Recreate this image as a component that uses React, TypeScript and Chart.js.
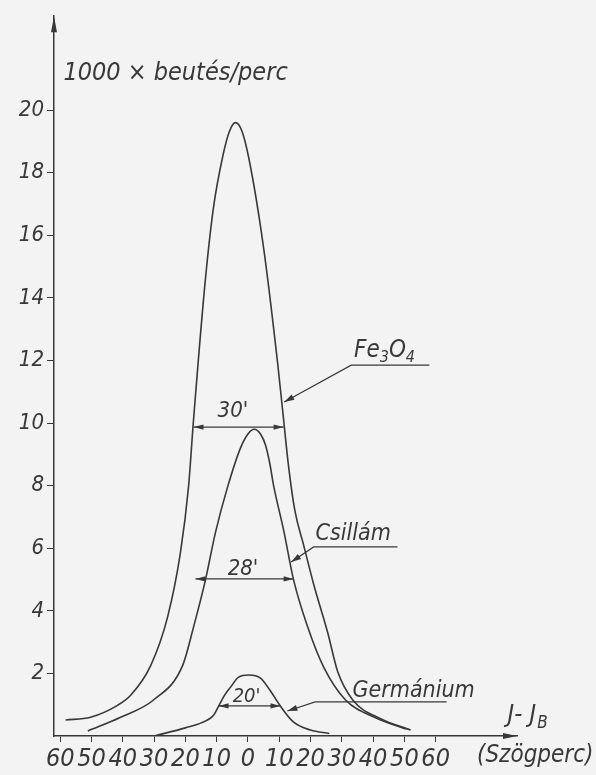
import React, { useEffect, useRef } from "react";
import { Chart, registerables } from "chart.js";

Chart.register(...registerables);

// ---- data (angle offset in arc-minutes, counts in 1000/min) ----
const feX = [-58.3, -50.3, -41.7, -37.5, -31.1, -25.7, -21.6, -19.0, -17.4, -13.6, -11.0, -8.1, -6.0, -4.0, -2.0, 0.2, 5.0, 9.5, 11.4, 13.0, 15.0, 17.8, 21.0, 25.5, 28.7, 33.5, 42.4, 52.0];
const feY = [0.51, 0.6, 0.98, 1.3, 2.25, 3.8, 5.85, 7.96, 10.1, 14.6, 16.9, 18.5, 19.3, 19.6, 19.35, 18.5, 15.6, 11.9, 10.1, 8.6, 7.2, 6.1, 4.85, 3.3, 2.05, 1.15, 0.55, 0.19];

const csX = [-51.2, -40.7, -30.2, -20.9, -17.4, -13.6, -10.4, -6.5, -2.4, 0.0, 2.0, 4.0, 5.6, 7.0, 8.2, 11.4, 14.6, 19.1, 24.2, 31.2, 40.8, 50.4];
const csY = [0.16, 0.6, 1.15, 2.25, 3.48, 4.98, 6.5, 7.96, 9.2, 9.65, 9.8, 9.65, 9.3, 8.7, 8.0, 6.58, 4.98, 3.48, 2.2, 1.15, 0.58, 0.22];

const geX = [-30, -20, -15, -11, -9.4, -7.5, -5.5, -3, 0.2, 4, 7, 10.4, 14.5, 20, 26];
const geY = [0.0, 0.26, 0.42, 0.66, 0.95, 1.3, 1.57, 1.88, 1.95, 1.85, 1.47, 0.95, 0.45, 0.19, 0.08];

const xTicks = [-60, -50, -40, -30, -20, -10, 0, 10, 20, 30, 40, 50, 60];
const yTicks = [2, 4, 6, 8, 10, 12, 14, 16, 18, 20];

const seriesNames = ["Fe3O4", "Csillám", "Germánium"];
const widthLabels = ["30'", "28'", "20'"];
const yTitle = "1000 × beutés/perc";
const xTitle = "(Szögperc)";

const INK = "#383838";
const FAM = '"DejaVu Sans Condensed", "Liberation Sans", sans-serif';

function toPts(xs: number[], ys: number[]) {
  return xs.map((x, i) => ({ x, y: ys[i] }));
}

function arrowHead(ctx: CanvasRenderingContext2D, fx: number, fy: number, tx: number, ty: number, len = 9, half = 3) {
  const a = Math.atan2(ty - fy, tx - fx);
  ctx.beginPath();
  ctx.moveTo(tx, ty);
  ctx.lineTo(tx - len * Math.cos(a) + half * Math.sin(a), ty - len * Math.sin(a) - half * Math.cos(a));
  ctx.lineTo(tx - len * Math.cos(a) - half * Math.sin(a), ty - len * Math.sin(a) + half * Math.cos(a));
  ctx.closePath();
  ctx.fill();
}

const annotate = {
  id: "annotate",
  afterDraw(chart: any) {
    const { ctx, scales, chartArea } = chart;
    const X = (v: number) => scales.x.getPixelForValue(v);
    const Y = (v: number) => scales.y.getPixelForValue(v);
    ctx.save();
    ctx.fillStyle = INK;
    ctx.strokeStyle = INK;
    ctx.lineWidth = 1.2;

    // axis arrows
    arrowHead(ctx, chartArea.left, chartArea.top + 20, chartArea.left, chartArea.top, 16, 3);
    arrowHead(ctx, chartArea.right - 20, chartArea.bottom, chartArea.right, chartArea.bottom, 14, 3);

    const text = (s: string, x: number, y: number, size: number) => {
      ctx.font = `italic ${size}px ${FAM}`;
      ctx.textAlign = "left";
      ctx.textBaseline = "alphabetic";
      ctx.fillText(s, x, y);
      return ctx.measureText(s).width;
    };

    // y title
    text(yTitle, X(-59), Y(20.96), 25);

    // width measures
    const measure = (x1: number, x2: number, v: number) => {
      const py = Y(v);
      const a = X(x1), b = X(x2);
      ctx.beginPath();
      ctx.moveTo(a, py);
      ctx.lineTo(b, py);
      ctx.stroke();
      arrowHead(ctx, b, py, a, py, 10, 2.6);
      arrowHead(ctx, a, py, b, py, 10, 2.6);
    };
    measure(-17.4, 11.4, 9.87);
    text(widthLabels[0], X(-9.7), Y(10.2), 22);
    measure(-16.8, 14.6, 5.02);
    text(widthLabels[1], X(-6.5), Y(5.14), 22);
    measure(-9.4, 10.4, 0.96);
    text(widthLabels[2], X(-4.9), Y(1.09), 20);

    // leader lines
    const leader = (pts: number[][]) => {
      ctx.beginPath();
      pts.forEach(([m, v], i) => (i ? ctx.lineTo(X(m), Y(v)) : ctx.moveTo(X(m), Y(v))));
      ctx.stroke();
      const n = pts.length;
      arrowHead(ctx, X(pts[n - 2][0]), Y(pts[n - 2][1]), X(pts[n - 1][0]), Y(pts[n - 1][1]), 10, 3);
    };

    // Fe3O4 label
    {
      let px = X(33.9);
      const base = Y(12.1);
      px += text("Fe", px, base, 24);
      px += text("3", px, base + 5, 16);
      px += text("O", px, base, 24);
      px += text("4", px, base + 5, 16);
      leader([[58, 11.85], [33, 11.85], [11.6, 10.67]]);
    }
    // Csillám
    text(seriesNames[1], X(21.6), Y(6.26), 23);
    leader([[47.8, 6.04], [21, 6.04], [13.8, 5.56]]);
    // Germánium
    text(seriesNames[2], X(33.4), Y(1.25), 23);
    leader([[63.5, 1.09], [26.4, 1.09], [21.5, 1.09], [12.6, 0.8]]);

    // x axis title
    {
      let px = X(83);
      const base = Y(0.45);
      px += text("J- J", px, base, 25);
      text("B", px + 1, base + 6, 17);
      text(xTitle, X(73.2), 762, 24);
    }
    ctx.restore();
  },
};

export default function App() {
  const ref = useRef<HTMLCanvasElement | null>(null);
  useEffect(() => {
    if (!ref.current) return;
    const ds = (xs: number[], ys: number[], label: string) => ({
      label,
      data: toPts(xs, ys),
      borderColor: INK,
      borderWidth: 1.6,
      pointRadius: 0,
      fill: false,
      cubicInterpolationMode: "monotone" as const,
    });
    const chart = new Chart(ref.current, {
      type: "line",
      data: {
        datasets: [ds(feX, feY, seriesNames[0]), ds(csX, csY, seriesNames[1]), ds(geX, geY, seriesNames[2])],
      },
      options: {
        animation: false,
        responsive: false,
        maintainAspectRatio: false,
        layout: { padding: { top: 16, right: 79, left: 0, bottom: 0 } },
        plugins: { legend: { display: false }, tooltip: { enabled: false }, title: { display: false } },
        scales: {
          x: {
            type: "linear",
            min: -62,
            max: 86,
            afterBuildTicks: (s: any) => {
              s.ticks = xTicks.map((v) => ({ value: v }));
            },
            afterFit: (s: any) => {
              s.height = 39;
            },
            grid: { display: true, drawOnChartArea: false, drawTicks: true, tickLength: 6, color: INK, lineWidth: 1 },
            border: { display: true, color: INK, width: 1.5 },
            ticks: {
              autoSkip: false,
              maxRotation: 0,
              padding: 2,
              color: INK,
              font: { family: FAM, style: "italic", size: 25 },
              callback: (v: any) => String(Math.abs(Number(v))),
            },
          },
          y: {
            type: "linear",
            min: 0,
            max: 23,
            afterBuildTicks: (s: any) => {
              s.ticks = yTicks.map((v) => ({ value: v }));
            },
            afterFit: (s: any) => {
              s.width = 54;
            },
            grid: { display: true, drawOnChartArea: false, drawTicks: true, tickLength: 7, color: INK, lineWidth: 1 },
            border: { display: true, color: INK, width: 1.5 },
            ticks: {
              autoSkip: false,
              padding: 3,
              color: INK,
              font: { family: FAM, style: "italic", size: 22 },
            },
          },
        },
      },
      plugins: [annotate],
    });
    return () => chart.destroy();
  }, []);
  return (
    <>
      <style>{`body{margin:0;background:#f3f3f3;}`}</style>
      <canvas ref={ref} width={596} height={775} style={{ display: "block", width: 596, height: 775 }} />
    </>
  );
}
